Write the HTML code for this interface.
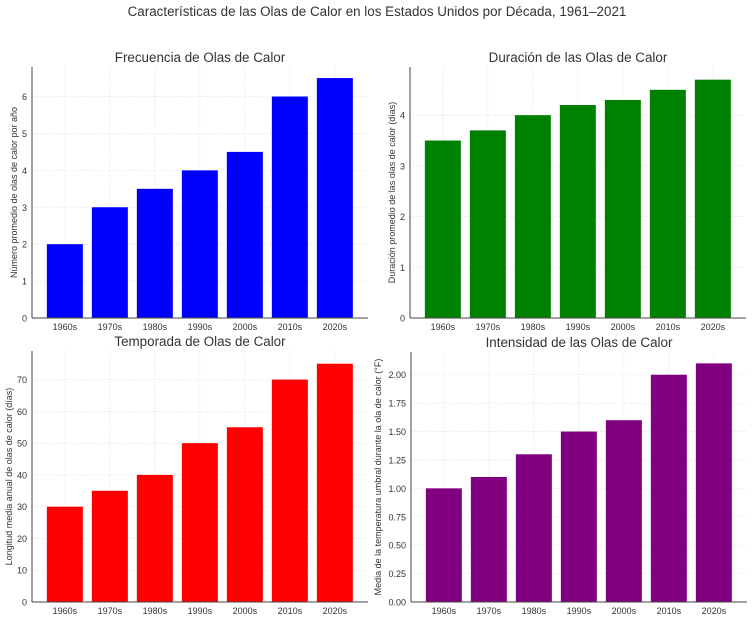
<!DOCTYPE html>
<html><head><meta charset="utf-8"><style>
body{margin:0;background:#fff;}
svg{display:block;font-family:"Liberation Sans","DejaVu Sans",sans-serif;}
</style></head><body>
<svg id="c" width="754" height="621">
<text x="377" y="16" text-anchor="middle" font-size="13.4" fill="#333">Características de las Olas de Calor en los Estados Unidos por Década, 1961–2021</text>
</svg>
<script>
const categories=["1960s","1970s","1980s","1990s","2000s","2010s","2020s"];
const frequencyValues=[2,3,3.5,4,4.5,6,6.5];
const durationValues=[3.5,3.7,4,4.2,4.3,4.5,4.7];
const seasonValues=[30,35,40,50,55,70,75];
const intensityValues=[1,1.1,1.3,1.5,1.6,2,2.1];
const frequencyTicks=[0,1,2,3,4,5,6];
const durationTicks=[0,1,2,3,4];
const seasonTicks=[0,10,20,30,40,50,60,70];
const intensityTicks=["0.00","0.25","0.50","0.75","1.00","1.25","1.50","1.75","2.00"];

const svg=document.getElementById('c');
const NS="http://www.w3.org/2000/svg";
function mk(tag,attrs,parent){const e=document.createElementNS(NS,tag);for(const k in attrs)e.setAttribute(k,attrs[k]);(parent||svg).appendChild(e);return e;}

function panel(id,L,T,R,B,ymax,vals,ticks,color,title,ylabel){
  const g=mk('g',{});
  
  
  const band=45;
  const xc=i=>L+(i+0.73)*band;
  const y=v=>B-(v/ymax)*(B-T);
  ticks.forEach(t=>{const v=parseFloat(t);const yy=y(v);
    mk('line',{x1:L,x2:R,y1:yy,y2:yy,stroke:'#e6e6e6','stroke-width':0.8,'stroke-dasharray':'1.5,1.5'},g);
    const tx=mk('text',{x:L-5,y:yy+3.5,'text-anchor':'end','font-size':9,fill:'#333'},g);
    tx.textContent=t;
    
    
  });
  categories.forEach((c,i)=>{
    mk('line',{x1:xc(i),x2:xc(i),y1:T,y2:B,stroke:'#e6e6e6','stroke-width':0.8,'stroke-dasharray':'1.5,1.5'},g);
  });
  vals.forEach((v,i)=>{
    const r=mk('rect',{x:xc(i)-18,y:y(v),width:36,height:B-y(v),fill:color},g);
    
    
    const tx=mk('text',{x:xc(i),y:B+12,'text-anchor':'middle','font-size':9,fill:'#333'},g);
    tx.textContent=categories[i];
    
    
  });
  mk('line',{x1:L,x2:L,y1:T,y2:B,stroke:'#444','stroke-width':1},g);
  mk('line',{x1:L,x2:R,y1:B,y2:B,stroke:'#444','stroke-width':1},g);
  const tt=mk('text',{x:(L+R)/2,y:T-5,'text-anchor':'middle','font-size':13.4,fill:'#333'},g);
  tt.textContent=title;
  
  
  const yl=mk('text',{x:0,y:0,'text-anchor':'middle','font-size':9,fill:'#333',transform:`translate(${L-ytoff(ticks)},${(T+B)/2}) rotate(-90)`},g);
  yl.textContent=ylabel;
  
  
}
function ytoff(t){const n=String(t[t.length-1]).length;return n>2?30:(n==2?20:15);}
panel('frequency',32,67,368,318,6.8,frequencyValues,frequencyTicks,'#0000ff','Frecuencia de Olas de Calor','Número promedio de olas de calor por año');
panel('duration',410,67,746,318,4.95,durationValues,durationTicks,'#008000','Duración de las Olas de Calor','Duración promedio de las olas de calor (días)');
panel('season',32,351,368,602,79,seasonValues,seasonTicks,'#ff0000','Temporada de Olas de Calor','Longitud media anual de olas de calor (días)');
panel('intensity',411,352,747,602,2.2,intensityValues,intensityTicks,'#800080','Intensidad de las Olas de Calor','Media de la temperatura umbral durante la ola de calor (°F)');
</script>
</body></html>
